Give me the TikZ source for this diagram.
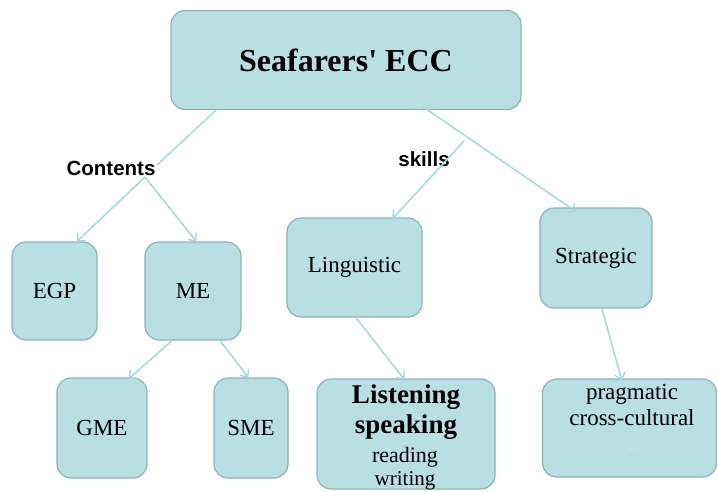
\documentclass[tikz,border=0pt]{standalone}
\usepackage{fontspec}
\setmainfont{Liberation Serif}
\setsansfont{Liberation Sans}
\usetikzlibrary{arrows.meta}
\definecolor{boxfill}{HTML}{B9DFE3}
\definecolor{boxline}{HTML}{8DB3B6}
\definecolor{conncol}{HTML}{AAD8DD}
\tikzset{
  box/.style={draw=boxline, line width=1.2pt, fill=boxfill, rounded corners=14pt, inner sep=0pt, font=\fontsize{23}{25}\selectfont},
  conn/.style={draw=conncol, line width=1.6pt},
  arr/.style={conn, -{Straight Barb[length=6pt,width=11pt,line width=1.4pt]}, shorten >=1pt},
  lab/.style={font=\sffamily\bfseries\fontsize{20.5}{22}\selectfont, inner sep=0pt},
  inl/.style={anchor=base, inner sep=0pt}
}
\begin{document}
\begin{tikzpicture}[x=1pt,y=-1pt]
\useasboundingbox (0,0) rectangle (717,491);
% boxes
\node[box, minimum width=350pt, minimum height=99pt, font=\bfseries\fontsize{32}{34}\selectfont] (top) at (346,60) {\raisebox{-2pt}{Seafarers\textquotesingle{} ECC}};
\node[box, minimum width=85pt, minimum height=98pt] (egp) at (54.5,291) {EGP};
\node[box, minimum width=96pt, minimum height=98pt] (me) at (193,291) {ME};
\node[box, minimum width=135pt, minimum height=99pt] (ling) at (354.5,267.5) {Linguistic};
\node[box, minimum width=112pt, minimum height=100pt] (strat) at (596,258) {Strategic};
\node[box, minimum width=90pt, minimum height=100pt] (gme) at (102,428) {\raisebox{-2pt}{GME}};
\node[box, minimum width=74pt, minimum height=100pt] (sme) at (251,428) {\raisebox{-2pt}{SME}};
\node[box, minimum width=178pt, minimum height=110pt] (lsn) at (406,434) {};
\node[box, minimum width=174pt, minimum height=98pt] (prag) at (629.5,428) {};
% inner texts
\node[inl, font=\bfseries\fontsize{27}{29}\selectfont] (t1) at (406,403) {Listening};
\node[inl, font=\bfseries\fontsize{27}{29}\selectfont] (t2) at (406,433) {speaking};
\node[inl, font=\fontsize{22}{24}\selectfont] (t3) at (405,462) {reading};
\node[inl, font=\fontsize{21}{23}\selectfont] (t4) at (405,485) {writing};
\node[inl, font=\fontsize{23}{25}\selectfont] (p1) at (632,399) {pragmatic};
\node[inl, font=\fontsize{23}{25}\selectfont] (p2) at (632,425) {cross-cultural};
\node[inner sep=0pt, font=\fontsize{11}{12}\selectfont, text=white!70!boxline] (p3) at (632,449) {...};
% labels
\node[lab] (contents) at (111,168) {Contents};
\node[lab] (skills) at (424,159) {skills};
% branch points
\coordinate (cend) at (157,165);
\coordinate (cbr) at (145,177);
\coordinate (sbr) at (464,141);
% connectors
\draw[conn] ([xshift=-130pt]top.south) -- (cend);
\draw[arr] (cbr) -- ([xshift=21.5pt,yshift=-1pt]egp.north);
\draw[arr] (cbr) -- ([xshift=4pt,yshift=-1pt]me.north);
\draw[arr] ([xshift=76pt,yshift=4pt]top.south) -- ([xshift=-19pt,yshift=-5pt]strat.north);
\draw[arr] (sbr) -- ([xshift=37.5pt,yshift=-2pt]ling.north);
\draw[arr] ([xshift=1.5pt]ling.south) -- ([xshift=-1pt,yshift=-2pt]lsn.north);
\draw[arr] ([xshift=6pt]strat.south) -- ([xshift=-7.5pt,yshift=-3pt]prag.north);
\draw[arr] ([xshift=-21pt]me.south) -- ([xshift=26pt,yshift=-2pt]gme.north);
\draw[arr] ([xshift=27pt]me.south) -- ([xshift=-2pt,yshift=-1pt]sme.north);
\end{tikzpicture}
\end{document}
